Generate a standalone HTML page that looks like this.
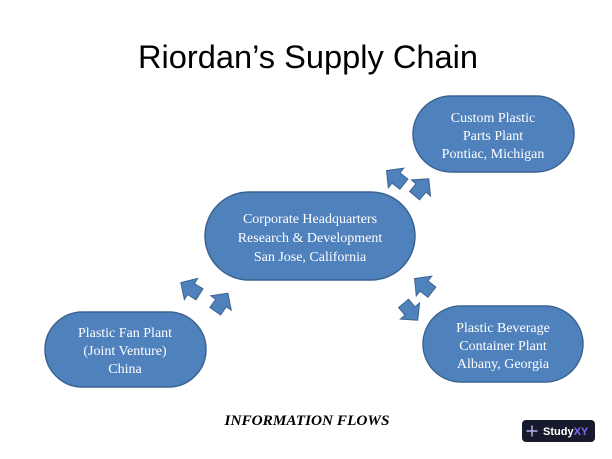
<!DOCTYPE html>
<html>
<head>
<meta charset="utf-8">
<style>
  html, body { margin:0; padding:0; background:#ffffff; }
  body { width:612px; height:459px; overflow:hidden; }
  svg { display:block; }
  .node { fill:#4f81bd; stroke:#3b6390; stroke-width:1.5; }
  .arr { fill:#4f81bd; stroke:#3b6390; stroke-width:1; }
  .nt { font-family:"Liberation Serif", serif; font-size:14px; fill:#ffffff; text-anchor:middle; }
</style>
</head>
<body>
<svg width="612" height="459" viewBox="0 0 612 459" xmlns="http://www.w3.org/2000/svg">
  <defs>
    <polygon id="ar" points="-10,-6.5 0,-6.5 0,-12.5 12,0 0,12.5 0,6.5 -10,6.5"/>
  </defs>

  <!-- Title -->
  <text x="308" y="68" font-family="Liberation Sans, sans-serif" font-size="32" fill="#000" text-anchor="middle" textLength="340" lengthAdjust="spacingAndGlyphs">Riordan’s Supply Chain</text>

  <!-- Custom Plastic -->
  <rect class="node" x="413" y="96" width="161" height="76" rx="38" ry="38"/>
  <text class="nt" x="493" y="122">Custom Plastic</text>
  <text class="nt" x="493" y="140">Parts Plant</text>
  <text class="nt" x="493" y="158">Pontiac, Michigan</text>

  <!-- HQ -->
  <rect class="node" x="205" y="192" width="210" height="88" rx="44" ry="44"/>
  <text class="nt" x="310" y="223">Corporate Headquarters</text>
  <text class="nt" x="310" y="242">Research &amp; Development</text>
  <text class="nt" x="310" y="261">San Jose, California</text>

  <!-- Fan plant -->
  <rect class="node" x="45" y="312" width="161" height="75" rx="37.5" ry="37.5"/>
  <text class="nt" x="125" y="337">Plastic Fan Plant</text>
  <text class="nt" x="125" y="355">(Joint Venture)</text>
  <text class="nt" x="125" y="373">China</text>

  <!-- Beverage -->
  <rect class="node" x="423" y="306" width="160" height="76" rx="38" ry="38"/>
  <text class="nt" x="503" y="332">Plastic Beverage</text>
  <text class="nt" x="503" y="350">Container Plant</text>
  <text class="nt" x="503" y="368">Albany, Georgia</text>

  <!-- Arrows -->
  <use href="#ar" class="arr" transform="translate(191,289) rotate(212)"/>
  <use href="#ar" class="arr" transform="translate(221,303) rotate(-55)"/>
  <use href="#ar" class="arr" transform="translate(396,178) rotate(218)"/>
  <use href="#ar" class="arr" transform="translate(421,188) rotate(-50)"/>
  <use href="#ar" class="arr" transform="translate(424,286) rotate(218)"/>
  <use href="#ar" class="arr" transform="translate(410,311) rotate(50)"/>

  <!-- Information flows -->
  <text x="307" y="425" font-family="Liberation Serif, serif" font-size="15" font-weight="bold" font-style="italic" fill="#000" text-anchor="middle" textLength="165" lengthAdjust="spacingAndGlyphs">INFORMATION FLOWS</text>

  <!-- StudyXY badge -->
  <rect x="522" y="420" width="73" height="22" rx="4" ry="4" fill="#171a2b"/>
  <line x1="526.5" y1="431" x2="537.5" y2="431" stroke="#b4aef0" stroke-width="1.5"/>
  <line x1="532" y1="425.5" x2="532" y2="436.5" stroke="#b4aef0" stroke-width="1.5"/>
  <text x="543" y="435" font-family="Liberation Sans, sans-serif" font-size="11" font-weight="bold" fill="#ffffff">Study<tspan fill="#7a6cf5">XY</tspan></text>
</svg>
</body>
</html>
